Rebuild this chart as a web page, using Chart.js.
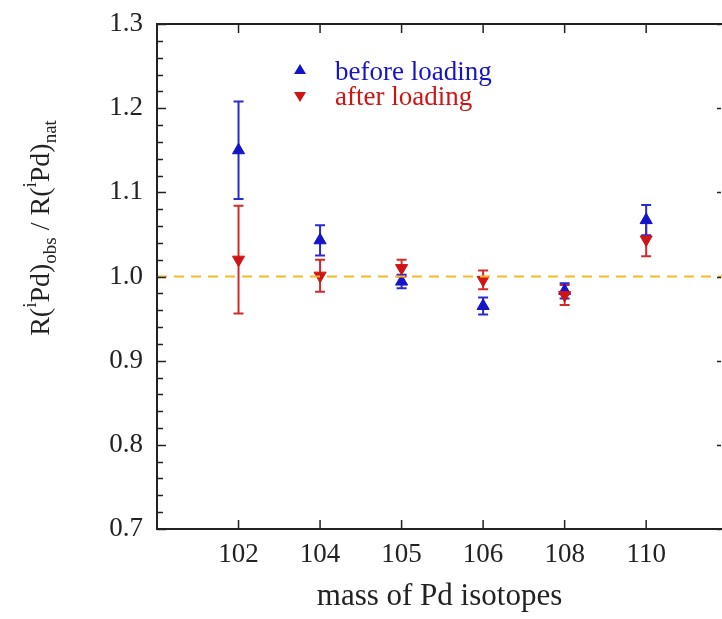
<!DOCTYPE html>
<html>
<head>
<meta charset="utf-8">
<script src="https://cdn.jsdelivr.net/npm/chart.js"></script>
<style>
  html, body { margin: 0; padding: 0; background: #fff; overflow: hidden; }
  canvas { display: block; }
</style>
</head>
<body>
<canvas id="chart" width="722" height="619"></canvas>
<script>
const isotopes = ['102', '104', '105', '106', '108', '110'];
const beforeValues = [1.150, 1.043, 0.994, 0.965, 0.983, 1.067];
const beforeErrors = [0.058, 0.018, 0.008, 0.010, 0.009, 0.018];
const afterValues = [1.020, 1.001, 1.010, 0.996, 0.978, 1.044];
const afterErrors = [0.064, 0.019, 0.010, 0.011, 0.012, 0.020];
const referenceLevel = 1.0;
const yTicks = [0.7, 0.8, 0.9, 1.0, 1.1, 1.2, 1.3];

const BLUE = '#1414c8';
const RED = '#d01414';
const SERIF = '"Liberation Serif", "DejaVu Serif", serif';

function toPoints(values) {
  return values.map((v, i) => ({ x: i, y: v }));
}

// error bars under the markers
const errorBarPlugin = {
  id: 'errorBars',
  beforeDatasetsDraw(chart) {
    const ctx = chart.ctx;
    const xs = chart.scales.x;
    const ys = chart.scales.y;
    const sets = [
      { values: afterValues, errors: afterErrors, color: '#d42a2a' },
      { values: beforeValues, errors: beforeErrors, color: '#2a2ad4' }
    ];
    ctx.save();
    ctx.lineWidth = 2;
    sets.forEach(s => {
      ctx.strokeStyle = s.color;
      s.values.forEach((v, i) => {
        const x = xs.getPixelForValue(i);
        const top = ys.getPixelForValue(v + s.errors[i]);
        const bot = ys.getPixelForValue(v - s.errors[i]);
        ctx.beginPath();
        ctx.moveTo(x, top); ctx.lineTo(x, bot);
        ctx.moveTo(x - 5, top); ctx.lineTo(x + 5, top);
        ctx.moveTo(x - 5, bot); ctx.lineTo(x + 5, bot);
        ctx.stroke();
      });
    });
    ctx.restore();
  }
};

// frame, inward ticks, legend and y title
const framePlugin = {
  id: 'frame',
  afterDraw(chart) {
    const ctx = chart.ctx;
    const a = chart.chartArea;
    const xs = chart.scales.x;
    const ys = chart.scales.y;
    ctx.save();
    ctx.strokeStyle = '#222';
    ctx.lineWidth = 2;
    ctx.beginPath();
    ctx.moveTo(a.right + 2, a.top);
    ctx.lineTo(a.left, a.top);
    ctx.lineTo(a.left, a.bottom);
    ctx.lineTo(a.right + 2, a.bottom);
    ctx.stroke();

    ctx.lineWidth = 1.5;
    ctx.beginPath();
    isotopes.forEach((c, i) => {
      const x = xs.getPixelForValue(i);
      ctx.moveTo(x, a.bottom); ctx.lineTo(x, a.bottom - 9);
      ctx.moveTo(x, a.top); ctx.lineTo(x, a.top + 9);
    });
    for (let k = 0; k <= 30; k++) {
      const v = 0.7 + k * 0.02;
      const y = Math.round(ys.getPixelForValue(v)) + 0.5;
      const major = k % 5 === 0;
      ctx.moveTo(a.left, y); ctx.lineTo(a.left + (major ? 9 : 6), y);
      if (major) { ctx.moveTo(a.right - 1, y); ctx.lineTo(a.right - 5, y); }
    }
    ctx.stroke();

    // legend
    const legend = [
      { label: 'before loading', color: BLUE, y: 70, base: 80, up: true },
      { label: 'after loading', color: RED, y: 98, base: 105, up: false }
    ];
    ctx.font = '27px ' + SERIF;
    ctx.textBaseline = 'alphabetic';
    ctx.textAlign = 'left';
    legend.forEach(l => {
      ctx.fillStyle = l.color;
      ctx.beginPath();
      if (l.up) {
        ctx.moveTo(300, l.y - 6); ctx.lineTo(306, l.y + 4); ctx.lineTo(294, l.y + 4);
      } else {
        ctx.moveTo(300, l.y + 4); ctx.lineTo(306, l.y - 6); ctx.lineTo(294, l.y - 6);
      }
      ctx.closePath();
      ctx.fill();
      ctx.fillText(l.label, 335, l.base);
    });

    // y title with sub/superscripts
    const parts = [
      ['R(', 0], ['i', 1], ['Pd)', 0], ['obs', -1], [' / R(', 0], ['i', 1], ['Pd)', 0], ['nat', -1]
    ];
    ctx.fillStyle = '#222';
    let total = 0;
    parts.forEach(p => {
      ctx.font = (p[1] === 0 ? 28 : 19) + 'px ' + SERIF;
      total += ctx.measureText(p[0]).width;
    });
    ctx.translate(49, 228);
    ctx.rotate(-Math.PI / 2);
    let x = -total / 2;
    parts.forEach(p => {
      ctx.font = (p[1] === 0 ? 28 : 19) + 'px ' + SERIF;
      const dy = p[1] === 1 ? -13 : (p[1] === -1 ? 7 : 0);
      ctx.fillText(p[0], x, dy);
      x += ctx.measureText(p[0]).width;
    });
    ctx.restore();
  }
};

new Chart(document.getElementById('chart'), {
  type: 'scatter',
  data: {
    datasets: [
      {
        type: 'line',
        label: 'reference',
        data: [{ x: -1, y: referenceLevel }, { x: 7, y: referenceLevel }],
        borderColor: '#f7b928',
        borderWidth: 2,
        borderDash: [10, 7],
        pointRadius: 0,
        fill: false
      },
      {
        label: 'after loading',
        data: toPoints(afterValues),
        pointStyle: 'triangle',
        rotation: 180,
        pointRadius: 7,
        backgroundColor: RED,
        borderColor: RED,
        borderWidth: 1
      },
      {
        label: 'before loading',
        data: toPoints(beforeValues),
        pointStyle: 'triangle',
        pointRadius: 7,
        backgroundColor: BLUE,
        borderColor: BLUE,
        borderWidth: 1
      }
    ]
  },
  options: {
    responsive: false,
    animation: false,
    layout: { autoPadding: false, padding: { top: 24, right: 0, left: 0, bottom: 0 } },
    plugins: {
      legend: { display: false },
      tooltip: { enabled: false }
    },
    scales: {
      x: {
        type: 'linear',
        min: -1,
        max: 5.93,
        grid: { display: false, drawTicks: false },
        border: { display: false },
        afterBuildTicks: scale => {
          scale.ticks = isotopes.map((c, i) => ({ value: i }));
        },
        afterFit: scale => {
          scale.height = 90;
          scale.paddingLeft = 0;
          scale.paddingRight = 0;
        },
        ticks: {
          padding: 10,
          color: '#222',
          font: { family: SERIF, size: 27 },
          maxRotation: 0,
          callback: v => isotopes[v]
        },
        title: {
          display: true,
          text: 'mass of Pd isotopes',
          color: '#222',
          font: { family: SERIF, size: 31 },
          padding: { top: 7 }
        }
      },
      y: {
        min: 0.7,
        max: 1.3,
        grid: { display: false, drawTicks: false },
        border: { display: false },
        afterBuildTicks: scale => {
          scale.ticks = yTicks.map(v => ({ value: v }));
        },
        afterFit: scale => {
          scale.width = 157;
          scale.paddingTop = 0;
          scale.paddingBottom = 0;
        },
        ticks: {
          padding: 14,
          color: '#222',
          font: { family: SERIF, size: 27 },
          callback: v => v.toFixed(1)
        }
      }
    }
  },
  plugins: [errorBarPlugin, framePlugin]
});
</script>
</body>
</html>
